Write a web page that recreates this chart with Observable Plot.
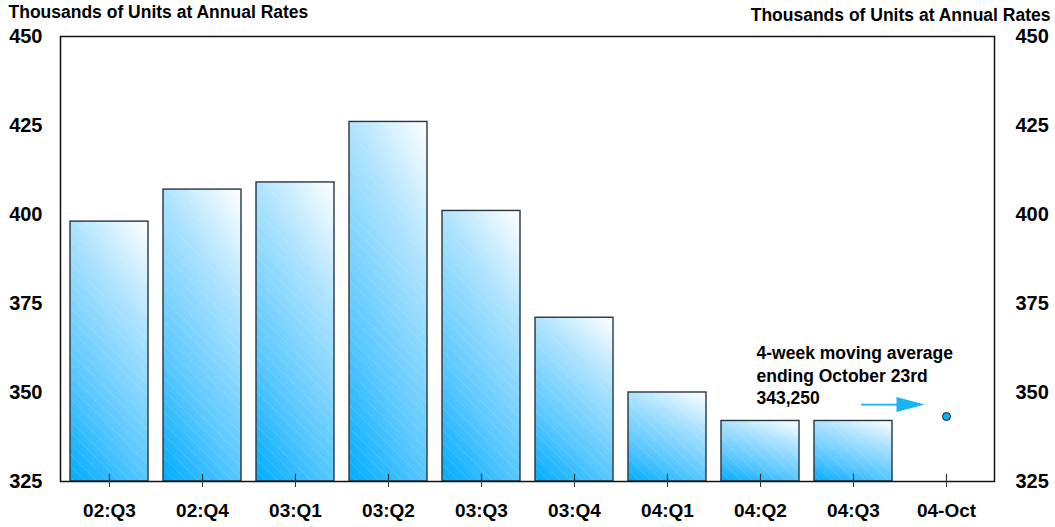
<!DOCTYPE html>
<html>
<head>
<meta charset="utf-8">
<script src="https://cdn.jsdelivr.net/npm/d3@7"></script>
<script src="https://cdn.jsdelivr.net/npm/@observablehq/plot@0.6"></script>
<style>
  html, body { margin: 0; padding: 0; background: #fff; }
  #chart svg { display: block; }
</style>
</head>
<body>
<div id="chart"></div>
<script>
// Housing starts, thousands of units at annual rates
const categories = ["02:Q3", "02:Q4", "03:Q1", "03:Q2", "03:Q3", "03:Q4", "04:Q1", "04:Q2", "04:Q3", "04-Oct"];
const quarterLabels = ["02:Q3", "02:Q4", "03:Q1", "03:Q2", "03:Q3", "03:Q4", "04:Q1", "04:Q2", "04:Q3"];
const quarterValues = [398, 407, 409, 426, 401, 371, 350, 342, 342];
const latestLabel = "04-Oct";
const latestValue = 343.25;
const yTicks = [325, 350, 375, 400, 425, 450];
const yDomain = [325, 450];
const unitsTitle = "Thousands of Units at Annual Rates";
const noteLines = ["4-week moving average", "ending October 23rd", "343,250"];
const noteAnchor = "04:Q2";
const arrowFrom = "04:Q3";
const arrowLevel = 346.6;
const noteTop = 364;

const quarters = quarterLabels.map((q, i) => ({q, v: quarterValues[i]}));

const font = "'Liberation Sans', Arial, sans-serif";
const blue = "#19b3f2";

// gradient + dotted hatch definitions used by the bars
function defs() {
  const ns = "http://www.w3.org/2000/svg";
  const d = document.createElementNS(ns, "defs");
  d.innerHTML = `
    <linearGradient id="barGrad" x1="0" y1="1" x2="0.517" y2="-0.207">
      <stop offset="0" stop-color="#00acff"/>
      <stop offset="0.3" stop-color="#58c7ff"/>
      <stop offset="0.7" stop-color="#afe3ff"/>
      <stop offset="1" stop-color="#ffffff"/>
    </linearGradient>
    <pattern id="hatch" width="8" height="8" patternUnits="userSpaceOnUse" patternTransform="rotate(-45)">
      <line x1="0" y1="0" x2="0" y2="8" stroke="#ffffff" stroke-width="1" stroke-opacity="0.45" stroke-dasharray="1 1"/>
    </pattern>`;
  return d;
}

// right-pointing filled arrow head, tip at the origin
const arrowHead = {
  draw(context) {
    context.moveTo(0, 0);
    context.lineTo(-28, -7.5);
    context.lineTo(-28, 7.5);
    context.closePath();
  }
};

const chart = Plot.plot({
  width: 1055,
  height: 527,
  marginLeft: 60,
  marginRight: 61,
  marginTop: 36,
  marginBottom: 46,
  style: {fontFamily: font, color: "#000", background: "#fff"},
  x: {type: "band", domain: categories, paddingInner: 0.165, paddingOuter: 0.074},
  y: {domain: yDomain},
  marks: [
    defs,
    Plot.barY(quarters, {x: "q", y1: yDomain[0], y2: "v", fill: "url(#barGrad)"}),
    Plot.barY(quarters, {x: "q", y1: yDomain[0], y2: "v", fill: "url(#hatch)", stroke: "#263640", strokeWidth: 1.4}),
    Plot.frame({stroke: "#111", strokeWidth: 1.5}),
    Plot.ruleX(categories, {x: d => d, y1: yDomain[0], y2: yDomain[0] + 2, stroke: "#333", strokeWidth: 1.2}),
    Plot.axisX({tickSize: 6, tickPadding: 16, fontSize: 19, fontWeight: "bold", stroke: "#333", label: null}),
    Plot.axisY({anchor: "left", ticks: yTicks, tickSize: 0, tickPadding: 18, fontSize: 20, fontWeight: "bold", label: null}),
    Plot.axisY({anchor: "right", ticks: yTicks, tickSize: 0, tickPadding: 21, fontSize: 20, fontWeight: "bold", label: null}),
    Plot.text([unitsTitle], {frameAnchor: "top-left", dx: -52, dy: -24, textAnchor: "start", lineAnchor: "middle", fontSize: 17.5, fontWeight: "bold"}),
    Plot.text([unitsTitle], {frameAnchor: "top-right", dx: 56, dy: -21, textAnchor: "end", lineAnchor: "middle", fontSize: 17.5, fontWeight: "bold"}),
    Plot.text([noteLines.join("\n")], {x: () => noteAnchor, y: () => noteTop, dx: -4, textAnchor: "start", lineAnchor: "top", lineHeight: 1.3, fontSize: 17.5, fontWeight: "bold"}),
    Plot.ruleY([arrowLevel], {y: d => d, x1: () => arrowFrom, x2: () => latestLabel, insetLeft: 47, insetRight: 87, stroke: blue, strokeWidth: 1.6}),
    Plot.dot([arrowLevel], {x: () => latestLabel, y: d => d, dx: -22, symbol: arrowHead, fill: blue, stroke: "none"}),
    Plot.dot([latestValue], {x: () => latestLabel, y: d => d, r: 4, fill: "#12aef5", stroke: "#1a1a1a", strokeWidth: 1})
  ]
});

document.getElementById("chart").append(chart);
</script>
</body>
</html>
